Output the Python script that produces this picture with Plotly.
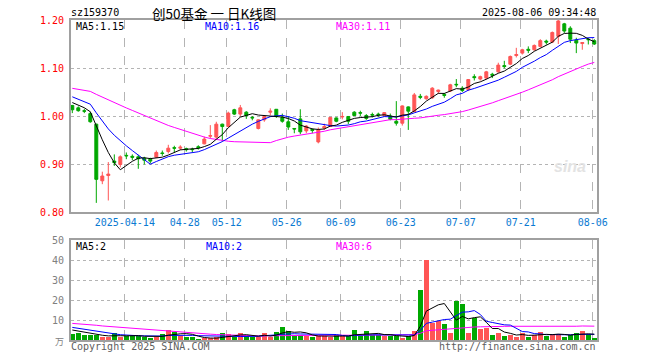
import plotly.graph_objects as go
import numpy as np

# ---------------- data ----------------
dates = ["03-31",
 "04-01","04-02","04-03","04-07","04-08","04-09","04-10","04-11","04-14","04-15",
 "04-16","04-17","04-18","04-21","04-22","04-23","04-24","04-25","04-28","04-29","04-30",
 "05-06","05-07","05-08","05-09","05-12","05-13","05-14","05-15","05-16","05-19",
 "05-20","05-21","05-22","05-23","05-26","05-27","05-28","05-29","05-30",
 "06-03","06-04","06-05","06-06","06-09","06-10","06-11","06-12","06-13","06-16",
 "06-17","06-18","06-19","06-20","06-23","06-24","06-25","06-26","06-27","06-30",
 "07-01","07-02","07-03","07-04","07-07","07-08","07-09","07-10","07-11","07-14",
 "07-15","07-16","07-17","07-18","07-21","07-22","07-23","07-24","07-25","07-28",
 "07-29","07-30","07-31","08-01","08-04","08-05","08-06"]

open_ = [1.022,1.017,1.011,1.005,0.983,0.865,0.876,0.906,0.899,0.918,
         0.916,0.915,0.912,0.910,0.914,0.923,0.926,0.934,0.933,0.932,
         0.931,0.936,0.942,0.958,0.956,0.983,0.978,1.013,1.004,1.008,
         0.997,0.974,0.992,1.008,1.014,0.997,0.988,0.974,0.994,0.969,
         0.972,0.946,0.975,0.978,0.996,0.998,0.999,1.008,1.007,1.001,
         1.003,1.004,1.001,1.000,0.989,0.985,1.019,1.009,1.041,1.036,
         1.038,1.051,1.045,1.052,1.066,1.058,1.055,1.082,1.077,1.079,
         1.087,1.092,1.105,1.108,1.126,1.131,1.139,1.138,1.145,1.156,
         1.154,1.166,1.192,1.183,1.158,1.151,1.160,1.157]
high = [1.023,1.020,1.015,1.009,0.984,0.884,0.904,0.920,0.918,0.924,
        0.920,0.919,0.915,0.913,0.928,0.928,0.940,0.938,0.939,0.934,
        0.934,0.939,0.957,0.981,0.988,0.984,1.009,1.015,1.023,1.010,
        1.000,0.993,1.000,1.016,1.014,1.005,1.000,0.974,1.014,0.981,
        0.974,0.976,0.984,0.997,0.997,1.008,0.999,1.010,1.011,1.004,
        1.007,1.007,1.008,1.005,1.031,1.022,1.020,1.048,1.046,1.043,
        1.060,1.055,1.048,1.067,1.077,1.062,1.077,1.087,1.084,1.094,
        1.090,1.111,1.115,1.126,1.142,1.140,1.145,1.149,1.160,1.159,
        1.176,1.200,1.194,1.187,1.163,1.154,1.163,1.160]
low = [1.006,1.009,1.006,0.986,0.819,0.858,0.824,0.896,0.893,0.910,
       0.908,0.890,0.899,0.901,0.913,0.917,0.922,0.924,0.929,0.926,
       0.925,0.930,0.941,0.953,0.953,0.947,0.977,1.002,0.999,0.994,
       0.991,0.972,0.988,1.002,0.996,0.986,0.971,0.964,0.962,0.964,
       0.964,0.943,0.971,0.977,0.987,0.993,0.983,1.000,1.000,0.992,
       0.997,0.998,1.000,0.991,0.980,0.980,0.971,1.008,1.035,1.034,
       1.036,1.046,1.038,1.050,1.060,1.050,1.052,1.074,1.074,1.076,
       1.079,1.090,1.099,1.106,1.122,1.128,1.131,1.136,1.143,1.149,
       1.152,1.150,1.173,1.152,1.131,1.138,1.149,1.148]
close = [1.013,1.011,1.010,0.988,0.868,0.875,0.879,0.903,0.915,0.917,
         0.914,0.911,0.908,0.906,0.924,0.922,0.933,0.933,0.935,0.930,
         0.930,0.934,0.952,0.959,0.983,0.978,1.006,1.004,1.017,1.001,
         0.996,0.992,0.999,1.010,0.999,0.989,0.977,0.973,0.967,0.979,
         0.970,0.971,0.978,0.997,0.989,0.999,0.989,1.001,1.006,0.995,
         1.002,1.003,1.007,0.993,0.985,1.021,1.010,1.044,1.039,1.041,
         1.058,1.054,1.043,1.065,1.065,1.053,1.076,1.080,1.082,1.092,
         1.085,1.106,1.103,1.124,1.128,1.138,1.137,1.147,1.157,1.154,
         1.174,1.198,1.177,1.160,1.152,1.153,1.159,1.150]
volume = [3.0,3.3,2.3,2.3,2.3,1.7,1.7,3.3,1.7,2.0,
          2.0,2.0,1.7,1.0,1.3,3.0,5.0,4.2,2.0,1.7,
          1.3,0.5,0.7,0.7,1.3,3.3,3.0,1.3,3.7,2.0,
          1.3,1.3,3.7,1.7,4.2,6.7,4.7,2.0,2.5,2.0,
          1.5,2.0,2.0,1.5,2.5,2.0,2.0,5.0,2.0,4.5,
          2.5,2.5,2.0,2.0,2.0,0.7,2.0,4.5,25.0,40.0,
          8.7,9.7,7.8,3.7,19.7,18.0,3.7,10.8,5.7,6.0,
          2.5,3.7,2.0,2.5,1.7,3.7,1.7,2.5,4.2,2.0,
          3.0,3.0,1.7,2.5,3.7,4.5,3.0,0.7]

# closes / volumes of the sessions before the first visible day (only feed the moving averages)
prior_close = [1.060,1.072,1.068,1.055,1.050,1.062,1.071,1.078,1.075,1.070,
               1.068,1.082,1.088,1.079,1.066,1.060,1.058,1.062,1.055,1.051,
               1.058,1.055,1.050,1.049,1.048,1.040,1.035,1.030,1.022]
prior_volume = [8,11,9,10,12,9,8,10,9,11,10,8,9,10,9,8,9,8,9,9,
                8,7,8,7,8,6,5,6,5]

tick_dates = ["04-14","04-28","05-12","05-26","06-09","06-23","07-07","07-21","08-06"]
tick_labels = ["2025-04-14","04-28","05-12","05-26","06-09","06-23","07-07","07-21","08-06"]
price_ticks = [0.80,0.90,1.00,1.10,1.20]
vol_ticks = [10,20,30,40,50]

# ---------------- styles ----------------
# the page body has an 8px margin, so the figure is drawn 8px smaller and offset
OX, OY = 8, 8
W, H = 660 - OX, 360 - OY
L, R = 71, 597
MAIN_T, MAIN_B = 20, 212
VOL_T, VOL_B = 240, 340
RED = "#ff5555"
GREEN = "#00a800"
BORDER = "#a0a0a0"
GRID = "#b4b4b4"
MONO = "DejaVu Sans Mono"
CJK = "Noto Sans CJK SC"

def px(x):
    return (x - OX) / W

def py(y):
    return 1 - (y - OY) / H

n = len(close)
idx = np.arange(n)

def ma(prior, vals, k):
    s = np.array(list(prior) + list(vals), dtype=float)
    out = np.convolve(s, np.ones(k) / k, mode="valid")
    return out[-len(vals):]

ma5, ma10, ma30 = ma(prior_close, close, 5), ma(prior_close, close, 10), ma(prior_close, close, 30)
vma5, vma10, vma30 = ma(prior_volume, volume, 5), ma(prior_volume, volume, 10), ma(prior_volume, volume, 30)

fig = go.Figure()

fig.add_trace(go.Candlestick(
    x=idx, open=open_, high=high, low=low, close=close,
    increasing=dict(line=dict(color=RED, width=1), fillcolor=RED),
    decreasing=dict(line=dict(color=GREEN, width=1), fillcolor=GREEN),
    whiskerwidth=0, hoverinfo="skip", xaxis="x", yaxis="y"))

for series, col in [(ma30, "#ff00ff"), (ma10, "#0000ff"), (ma5, "#000000")]:
    fig.add_trace(go.Scatter(x=idx, y=series, mode="lines",
                             line=dict(color=col, width=1), hoverinfo="skip",
                             xaxis="x", yaxis="y"))

bar_colors = [RED if c >= o else GREEN for o, c in zip(open_, close)]
fig.add_trace(go.Bar(x=idx, y=volume, marker=dict(color=bar_colors, line=dict(width=0)),
                     width=0.78, hoverinfo="skip", xaxis="x2", yaxis="y2"))
for series, col in [(vma30, "#ff00ff"), (vma10, "#0000ff"), (vma5, "#000000")]:
    fig.add_trace(go.Scatter(x=idx, y=series, mode="lines",
                             line=dict(color=col, width=1), hoverinfo="skip",
                             xaxis="x2", yaxis="y2"))

px_per = 6.0
x_range = [-(72.3 - L) / px_per, (R - 72.3) / px_per]
tickpos = [dates.index(d) - 0.25 for d in tick_dates]

xdom = [px(L), px(R)]
common_x = dict(domain=xdom, range=x_range, tickvals=tickpos, showgrid=True,
                gridcolor=GRID, griddash="dash", gridwidth=1, showline=True, mirror=True,
                linecolor=BORDER, linewidth=2, ticks="", zeroline=False,
                fixedrange=True, automargin=False)

fig.update_layout(
    width=W, height=H, margin=dict(l=0, r=0, t=0, b=0, pad=0, autoexpand=False),
    paper_bgcolor="white", plot_bgcolor="white", showlegend=False,
    bargap=0,
    xaxis=dict(**common_x, anchor="y", ticktext=tick_labels,
               tickfont=dict(family=MONO, size=10, color="#0a7ad2"),
               rangeslider=dict(visible=False), ticklabelstandoff=0),
    xaxis2=dict(**common_x, anchor="y2", showticklabels=False),
    yaxis=dict(domain=[py(MAIN_B), py(MAIN_T)], range=[0.80, 1.20],
               tickvals=price_ticks, ticktext=[f"{v:.2f}" for v in price_ticks],
               tickfont=dict(family=MONO, size=10, color="#ff0000"),
               showgrid=True, gridcolor=GRID, griddash="dot", showline=True,
               mirror=True, linecolor=BORDER, linewidth=2, ticks="", zeroline=False,
               ticklabelstandoff=3, automargin=False),
    yaxis2=dict(domain=[py(VOL_B), py(VOL_T)], range=[0, 50],
                tickvals=vol_ticks, ticktext=[str(v) for v in vol_ticks],
                tickfont=dict(family=MONO, size=10, color="#808080"),
                showgrid=True, gridcolor=GRID, griddash="dot", showline=True,
                mirror=True, linecolor=BORDER, linewidth=2, ticks="", zeroline=False,
                ticklabelstandoff=3, automargin=False),
)

def txt(x, y, s, color="#000000", size=10, family=MONO, anchor="left", **kw):
    fig.add_annotation(x=px(x), y=py(y), xref="paper", yref="paper", text=s,
                       showarrow=False, xanchor=anchor, yanchor="middle",
                       font=dict(family=family, size=size, color=color), **kw)

txt(69, 13, "sz159370")
txt(214, 13, "创50基金 一 日K线图", size=13.5, family=CJK, anchor="center")
txt(598, 13, "2025-08-06 09:34:48", anchor="right")
txt(74, 27, "MA5:1.15")
txt(203, 27, "MA10:1.16", color="#0000ff")
txt(334, 27, "MA30:1.11", color="#ff00ff")
txt(74, 246, "MA5:2")
txt(204, 246, "MA10:2", color="#0000ff")
txt(334, 246, "MA30:6", color="#ff00ff")
txt(69, 346, "Copyright 2025 SINA.COM", color="#606060")
txt(598, 346, "http://finance.sina.com.cn", color="#606060", anchor="right")
txt(66, 341, "万", color="#808080", size=9, family=CJK, anchor="right")
txt(570, 166, "<i><b>sina</b></i>", color="#e3e3e3", size=16, family="Liberation Sans", anchor="center")

fig.write_html("out.html")
